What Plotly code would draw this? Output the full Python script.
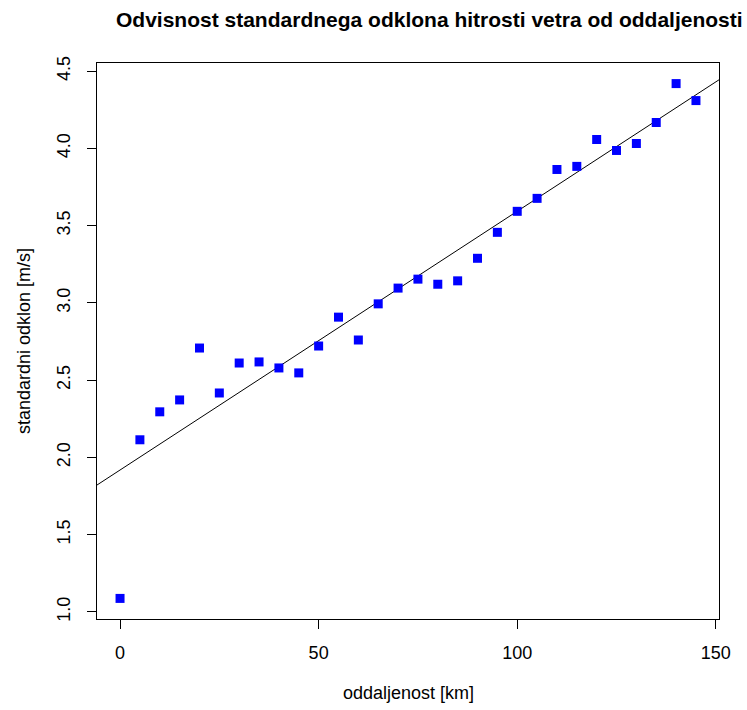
import numpy as np
import plotly.graph_objects as go

# distance from the reference point [km]
oddaljenost = [0, 5, 10, 15, 20, 25, 30, 35, 40, 45, 50, 55, 60, 65, 70,
               75, 80, 85, 90, 95, 100, 105, 110, 115, 120, 125, 130, 135, 140, 145]
# standard deviation of wind speed [m/s]
std_odklon = [1.087, 2.114, 2.295, 2.372, 2.708, 2.417, 2.611, 2.618, 2.579, 2.547,
              2.721, 2.908, 2.760, 2.994, 3.096, 3.154, 3.121, 3.143, 3.289, 3.457,
              3.593, 3.677, 3.864, 3.884, 4.058, 3.987, 4.032, 4.168, 4.420, 4.310]

x_ticks = [0, 50, 100, 150]
y_ticks = [1.0, 1.5, 2.0, 2.5, 3.0, 3.5, 4.0, 4.5]

x = np.array(oddaljenost, dtype=float)
y = np.array(std_odklon, dtype=float)

# R-style 4% padding of the axis ranges
def padded(a):
    lo, hi = float(a.min()), float(a.max())
    d = (hi - lo) * 0.04
    return [lo - d, hi + d]

xr = padded(x)
yr = padded(y)

# least-squares line across the whole plotting region
slope, intercept = np.polyfit(x, y, 1)
lx = np.array(xr)
ly = intercept + slope * lx

font = "Liberation Sans, Arial, Helvetica, sans-serif"

fig = go.Figure()
fig.add_trace(go.Scatter(x=lx, y=ly, mode="lines",
                         line=dict(color="black", width=1), showlegend=False,
                         hoverinfo="skip"))
fig.add_trace(go.Scatter(x=x, y=y, mode="markers",
                         marker=dict(symbol="square", size=9, color="#0000FF",
                                     line=dict(width=0)),
                         showlegend=False))

axis_common = dict(showgrid=False, zeroline=False, showline=True, linecolor="black",
                   linewidth=1, mirror=True, ticks="outside", ticklen=9,
                   tickcolor="black", tickwidth=1,
                   tickfont=dict(family=font, size=18, color="black"))

fig.update_xaxes(range=xr, tickvals=x_ticks, ticktext=[str(v) for v in x_ticks],
                 ticklabelstandoff=8, **axis_common)
fig.update_yaxes(range=yr, tickvals=y_ticks, ticktext=[f"{v:.1f}" for v in y_ticks],
                 tickangle=-90, ticklabelstandoff=10, **axis_common)

fig.update_layout(
    width=747, height=710,
    margin=dict(l=97, r=28, t=63, b=91),
    paper_bgcolor="white", plot_bgcolor="white",
    font=dict(family=font, color="black"),
    annotations=[
        dict(text="<b>Odvisnost standardnega odklona hitrosti vetra od oddaljenosti</b>",
             xref="paper", yref="paper", x=0.534, y=1.0, yshift=44,
             xanchor="center", yanchor="middle", showarrow=False,
             font=dict(family=font, size=21, color="black")),
        dict(text="oddaljenost [km]", xref="paper", yref="paper", x=0.5, y=0,
             yshift=-74, xanchor="center", yanchor="middle", showarrow=False,
             font=dict(family=font, size=18, color="black")),
        dict(text="standardni odklon [m/s]", xref="paper", yref="paper", x=0, y=0.5,
             xshift=-73, xanchor="center", yanchor="middle", textangle=-90,
             showarrow=False, font=dict(family=font, size=18, color="black")),
    ],
)

fig.write_html("out.html")
